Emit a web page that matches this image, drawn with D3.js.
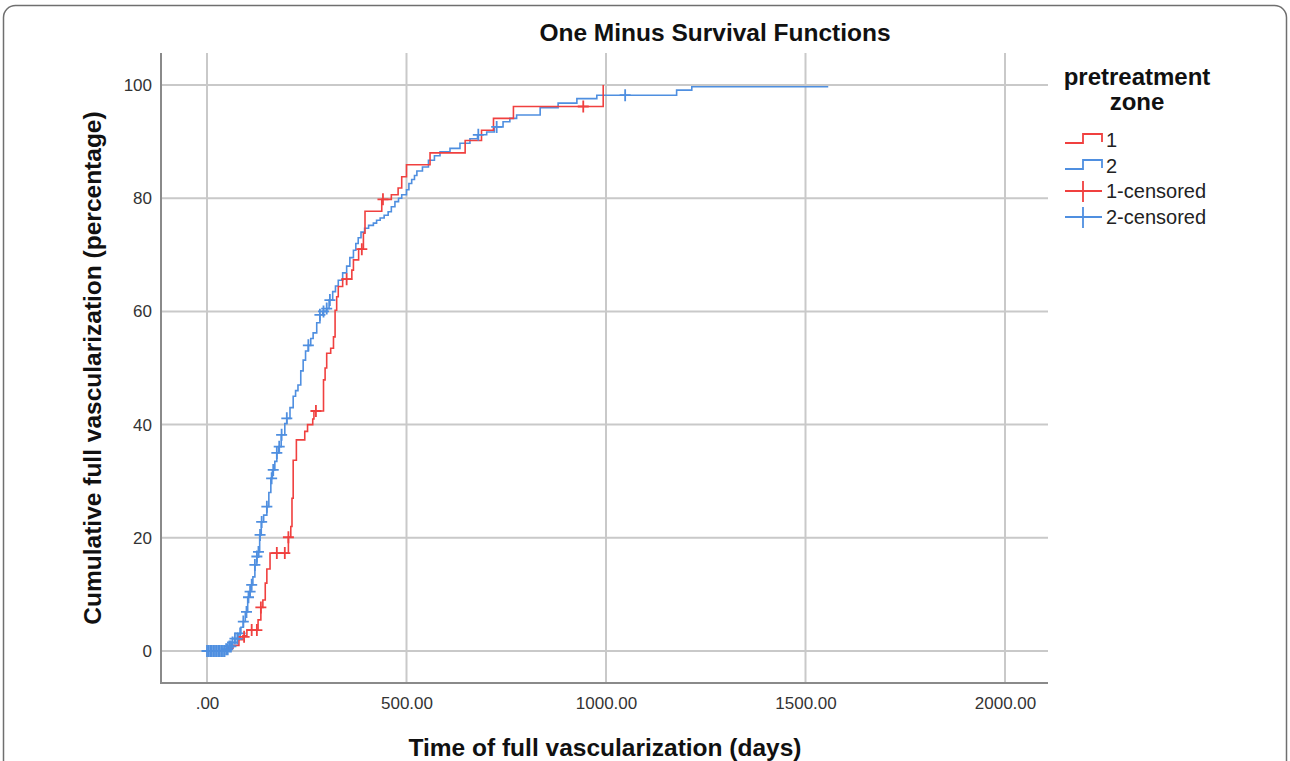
<!DOCTYPE html>
<html>
<head>
<meta charset="utf-8">
<script src="https://cdn.jsdelivr.net/npm/d3@7"></script>
<style>
  body { margin: 0; background: #fff; }
  svg { display: block; font-family: "Liberation Sans", Arial, sans-serif; }
</style>
</head>
<body>
<svg id="chart" width="1290" height="761"></svg>
<script>
// step points [days, cumulative %]
var zone1Steps = [[0,0],[50,0.5],[65,1],[80,2],[90,2.7],[100,3.7],[128,5.5],[135,7.7],[140,9],[146,12],
  [150,14.5],[158,17.3],[204,20.1],[210,22],[213,27],[216,33.7],[224,37.3],[245,38.8],[252,40],[265,41],
  [268,42.4],[292,47.9],[296,50],[300,52.6],[310,53.5],[317,55.5],[321,60.2],[325,62.6],[329,64.4],
  [340,65.7],[363,67.3],[367,69.1],[380,71],[392,73.8],[396,77.7],[438,79.8],[462,80.6],[479,81.8],
  [488,83.8],[500,85.9],[559,88],[647,90.2],[688,92],[718,94.1],[768,96.2],[993,100]];

var zone2Steps = [[0,0],[45,0.3],[55,0.8],[62,1.5],[70,2.2],[78,3.1],[85,4.2],[91,5.2],[96,6.9],[102,9.5],
  [106,10.5],[110,11.7],[115,13.1],[120,15.2],[125,16.7],[129,17.5],[132,20.5],[136,22.8],[142,24],[150,25.5],
  [155,28],[160,30.5],[164,32],[170,33.5],[175,35],[180,36.1],[186,38.2],[195,40.2],[200,41.1],[208,43],
  [216,45],[222,46],[228,47],[235,49.5],[241,51.4],[247,53],[254,54],[260,55.2],[266,56.2],[275,58],
  [283,59.4],[290,60],[300,60.5],[306,62],[315,63.5],[322,64.5],[329,65.5],[340,66.8],[350,68],[358,69.5],
  [367,70.8],[373,72],[379,73],[386,74],[395,74.7],[405,75.2],[417,75.6],[425,76.1],[434,76.5],[444,77],
  [454,77.6],[462,78.5],[471,79.4],[480,80],[488,80.6],[500,81.5],[506,82.6],[513,83.3],[520,84],[526,84.8],
  [540,85.5],[555,86.7],[570,87.5],[584,88.2],[609,88.8],[634,89.7],[659,90.5],[678,91.2],[701,91.7],
  [720,92.6],[742,93.5],[759,94.1],[776,94.7],[835,96],[880,96.8],[927,97.6],[977,98.2],[1177,99.1],
  [1215,99.7],[1557,99.7]];

// censored observations [days, %]
var zone1Censored = [[93,2.5],[112,3.7],[125,3.7],[135,7.7],[175,17.3],[195,17.3],[204,20.1],[273,42.4],
  [350,65.7],[388,71],[441,79.8],[943,96.2]];

var zone2Censored = [[0,0],[4,0],[8,0],[12,0],[16,0],[20,0],[24,0],[28,0],[32,0],[36,0],[40,0],[44,0],
  [48,0.3],[52,0.3],[56,0.8],[60,0.8],[64,1.5],[70,2.2],[76,2.2],[83,3.1],[91,5.2],[99,6.9],[104,9.5],
  [108,10.5],[112,11.7],[120,15.2],[125,16.7],[129,17.5],[133,20.5],[137,22.8],[150,25.5],[162,30.5],
  [166,32],[175,35],[181,36.1],[187,38.2],[200,41.1],[254,54],[283,59.4],[292,60],[300,60.5],[308,62],
  [680,91.2],[726,92.6],[1048,98.2]];

var xTicks = [0, 500, 1000, 1500, 2000];
var yTicks = [0, 20, 40, 60, 80, 100];
var legendLabels = ["1", "2", "1-censored", "2-censored"];

var red = "#f0403f", blue = "#4f8fe0";
var plotLeft = 161, plotRight = 1048, plotTop = 53, plotBottom = 683;

var svg = d3.select("#chart");

var x = d3.scaleLinear().domain([0, 2000]).range([207, 1005]);
var y = d3.scaleLinear().domain([0, 100]).range([651, 85]);

// outer rounded frame
svg.append("rect")
  .attr("x", 3.5).attr("y", 5.5).attr("width", 1283).attr("height", 800)
  .attr("rx", 12).attr("fill", "none").attr("stroke", "#6f6f6f").attr("stroke-width", 1.5);

// grid
var grid = svg.append("g").attr("stroke", "#c9c9c9").attr("stroke-width", 2);
grid.selectAll(".h").data(yTicks).enter().append("line")
  .attr("x1", plotLeft).attr("x2", plotRight)
  .attr("y1", function(d){ return y(d); }).attr("y2", function(d){ return y(d); });
grid.selectAll(".v").data(xTicks).enter().append("line")
  .attr("y1", plotTop).attr("y2", plotBottom)
  .attr("x1", function(d){ return x(d); }).attr("x2", function(d){ return x(d); });

// axis frame
svg.append("path")
  .attr("d", "M" + plotLeft + "," + plotTop + "V" + plotBottom + "H" + plotRight)
  .attr("fill", "none").attr("stroke", "#8a8a8a").attr("stroke-width", 2);

// tick labels
var yAxis = d3.axisLeft(y).tickValues(yTicks).tickSize(0).tickPadding(9);
svg.append("g").attr("transform", "translate(" + plotLeft + ",0)").call(yAxis)
  .call(function(g){ g.select(".domain").remove(); })
  .selectAll("text").attr("font-size", 17).attr("fill", "#333").attr("font-family", "Liberation Sans, Arial");

var xAxis = d3.axisBottom(x).tickValues(xTicks).tickSize(0).tickPadding(14)
  .tickFormat(function(d){ return d === 0 ? ".00" : d.toFixed(2); });
svg.append("g").attr("transform", "translate(0," + plotBottom + ")").call(xAxis)
  .call(function(g){ g.select(".domain").remove(); })
  .selectAll("text").attr("font-size", 17).attr("fill", "#333").attr("font-family", "Liberation Sans, Arial");

// step curves
var line = d3.line()
  .x(function(d){ return x(d[0]); })
  .y(function(d){ return y(d[1]); })
  .curve(d3.curveStepAfter);

svg.append("path").attr("d", line(zone2Steps))
  .attr("fill", "none").attr("stroke", blue).attr("stroke-width", 1.6);
svg.append("path").attr("d", line(zone1Steps))
  .attr("fill", "none").attr("stroke", red).attr("stroke-width", 1.6);

// censor marks
function drawCensors(data, color) {
  var g = svg.append("g").attr("stroke", color).attr("stroke-width", 1.8);
  g.selectAll("path").data(data).enter().append("path")
    .attr("d", function(d){
      var cx = x(d[0]), cy = y(d[1]);
      return "M" + (cx - 5.5) + "," + cy + "H" + (cx + 5.5) + "M" + cx + "," + (cy - 6) + "V" + (cy + 6);
    });
}
drawCensors(zone2Censored, blue);
drawCensors(zone1Censored, red);

// titles
svg.append("text").attr("x", 715).attr("y", 41).attr("text-anchor", "middle")
  .attr("font-size", 24.5).attr("font-weight", "bold").attr("fill", "#111")
  .text("One Minus Survival Functions");

svg.append("text").attr("x", 605).attr("y", 756).attr("text-anchor", "middle")
  .attr("font-size", 24.5).attr("font-weight", "bold").attr("fill", "#111")
  .text("Time of full vascularization (days)");

svg.append("text").attr("transform", "translate(101,368) rotate(-90)").attr("text-anchor", "middle")
  .attr("font-size", 24.5).attr("font-weight", "bold").attr("fill", "#111")
  .text("Cumulative full vascularization (percentage)");

// legend title, two lines in one text
var legendTitle = svg.append("text").attr("text-anchor", "middle")
  .attr("font-size", 24).attr("font-weight", "bold").attr("fill", "#111");
legendTitle.append("tspan").attr("x", 1137).attr("y", 85).text("pretreatment");
legendTitle.append("tspan").attr("x", 1137).attr("y", 110).text("zone");

var legendColors = [red, blue, red, blue];
var legendY = [140, 166, 191, 217];
legendLabels.forEach(function(label, i) {
  var ly = legendY[i];
  var sym = i < 2
    ? "M1065," + (ly + 3) + "H1083V" + (ly - 6) + "H1102V" + (ly + 2)
    : "M1065," + ly + "H1102M1083," + (ly - 10) + "V" + (ly + 11);
  svg.append("path").attr("d", sym).attr("fill", "none")
    .attr("stroke", legendColors[i]).attr("stroke-width", 1.8);
  svg.append("text").attr("x", 1106).attr("y", ly + 7)
    .attr("font-size", 20).attr("fill", "#222").text(label);
});
</script>
</body>
</html>
